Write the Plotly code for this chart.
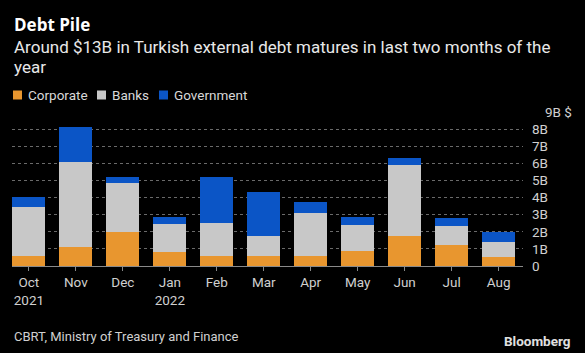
import plotly.graph_objects as go

months = ["Oct<br>2021", "Nov", "Dec", "Jan<br>2022", "Feb", "Mar", "Apr", "May", "Jun", "Jul", "Aug"]
corporate = [0.60, 1.10, 2.00, 0.80, 0.57, 0.60, 0.60, 0.88, 1.76, 1.24, 0.53]
banks = [2.85, 5.00, 2.85, 1.65, 1.92, 1.15, 2.50, 1.50, 4.14, 1.08, 0.85]
government = [0.57, 2.05, 0.35, 0.40, 2.70, 2.57, 0.63, 0.47, 0.42, 0.47, 0.58]
ytick_vals = [0, 1, 2, 3, 4, 5, 6, 7, 8, 9]
ytick_text = ["0", "1B", "2B", "3B", "4B", "5B", "6B", "7B", "8B", ""]
series_names = ["Corporate", "Banks", "Government"]
colors = ["#E8962F", "#C8C8C8", "#0B55C6"]
subtitle_lines = ["Around $13B in Turkish external debt matures in last two months of the", "year"]

W, H = 585, 353
ml, mr, mt, mb = 12, 62, 112, 87
pw, ph = W - ml - mr, H - mt - mb


def px(x):
    return (x - ml) / pw


def py(y):
    return (H - mb - y) / ph


FONT = "Roboto"
xs = list(range(len(months)))
fig = go.Figure()
for name, vals, col in zip(series_names, [corporate, banks, government], colors):
    fig.add_trace(go.Bar(x=xs, y=vals, name=name, marker=dict(color=col, line=dict(width=0)),
                         showlegend=False))

ann = []
ann.append(dict(text="<b>Debt Pile</b>", x=px(12), y=py(24), xanchor="left", yanchor="middle",
                font=dict(size=17, color="#ffffff", family="Open Sans")))
for i, line in enumerate(subtitle_lines):
    ann.append(dict(text=line, x=px(12), y=py(47 + 20 * i), xanchor="left", yanchor="middle",
                    font=dict(size=17, color="#e8e8e8", family=FONT)))
# legend
leg_x = [13, 97, 159]
for name, col, lx in zip(series_names, colors, leg_x):
    fig.add_shape(type="rect", xref="paper", yref="paper", x0=px(lx), x1=px(lx + 9),
                  y0=py(99.5), y1=py(90.5), fillcolor=col, line=dict(width=0))
    ann.append(dict(text=name, x=px(lx + 13), y=py(95), xanchor="left", yanchor="middle",
                    font=dict(size=13.5, color="#d8d8d8", family=FONT)))
ann.append(dict(text="9B $", x=px(543), y=py(112), xanchor="left", yanchor="middle",
                font=dict(size=13.5, color="#d0d0d0", family=FONT)))
ann.append(dict(text="CBRT, Ministry of Treasury and Finance", x=px(12), y=py(336),
                xanchor="left", yanchor="middle", font=dict(size=13, color="#d0d0d0", family=FONT)))
ann.append(dict(text="<b>Bloomberg</b>", x=px(573), y=py(341), xanchor="right", yanchor="middle",
                font=dict(size=13.5, color="#e0e0e0", family=FONT)))
for a in ann:
    a.update(xref="paper", yref="paper", showarrow=False)

fig.update_layout(
    width=W, height=H, margin=dict(l=ml, r=mr, t=mt, b=mb),
    paper_bgcolor="#000000", plot_bgcolor="#000000",
    barmode="stack", bargap=0.3,
    annotations=ann,
    xaxis=dict(range=[-0.36, 10.52], tickvals=xs, ticktext=months, ticks="outside",
               ticklen=4, tickcolor="#888888", showgrid=False, showline=True,
               linecolor="#8a8a8a", linewidth=1, zeroline=False,
               tickfont=dict(size=13.5, color="#d0d0d0", family=FONT)),
    yaxis=dict(range=[0, 9], side="right", tickvals=ytick_vals, ticktext=ytick_text,
               showgrid=True, gridcolor="#6a6a6a", griddash="dot", gridwidth=1,
               zeroline=False, ticks="", ticklabelstandoff=8,
               tickfont=dict(size=13.5, color="#d0d0d0", family=FONT)),
)
fig.write_html("out.html")
